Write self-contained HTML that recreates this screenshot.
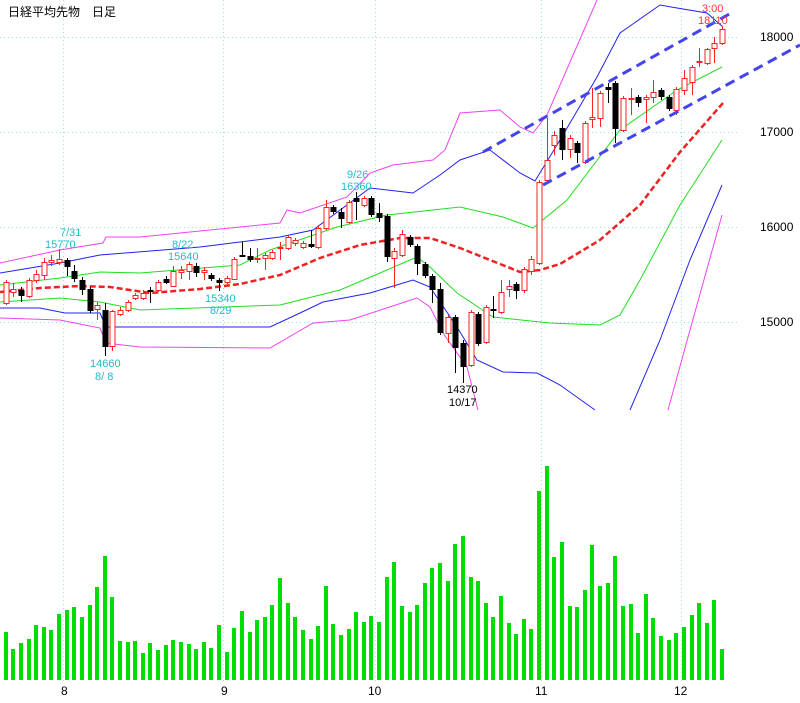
<!DOCTYPE html>
<html><head><meta charset="utf-8"><style>
html,body{margin:0;padding:0;background:#fff;}
svg{display:block;font-family:"Liberation Sans","Noto Sans CJK JP",sans-serif;}
</style></head><body>
<svg id="s" width="800" height="703" xmlns="http://www.w3.org/2000/svg" shape-rendering="crispEdges">
<g stroke="#9ee0e0" stroke-dasharray="1,3" stroke-width="1">
<line x1="0" y1="37.5" x2="740" y2="37.5"/><line x1="0" y1="132.5" x2="740" y2="132.5"/>
<line x1="0" y1="227.5" x2="740" y2="227.5"/><line x1="0" y1="322.5" x2="740" y2="322.5"/>
<line x1="63.5" y1="0" x2="63.5" y2="682"/><line x1="223.5" y1="0" x2="223.5" y2="682"/>
<line x1="375.5" y1="0" x2="375.5" y2="682"/><line x1="541.5" y1="0" x2="541.5" y2="682"/>
<line x1="681.5" y1="0" x2="681.5" y2="682"/>
</g>
<g id="lines" fill="none" shape-rendering="auto"></g>
<g id="vol" fill="#00dd00"></g>
<g id="cnd"></g>
<g fill="none" stroke="#4444ee" stroke-width="3" stroke-dasharray="10,6" shape-rendering="auto">
<line x1="483" y1="152" x2="733" y2="12"/>
<line x1="543" y1="185" x2="800" y2="45"/>
</g>
<g font-size="12" fill="#000">
<text x="8" y="16">日経平均先物　日足</text>
<text x="760" y="41">18000</text><text x="760" y="136">17000</text>
<text x="760" y="231">16000</text><text x="760" y="326">15000</text>
<text x="61" y="695">8</text><text x="221" y="695">9</text><text x="368" y="695">10</text>
<text x="535" y="695">11</text><text x="674" y="695">12</text>
</g>
<g font-size="11" fill="#22bbcc">
<text x="60" y="236">7/31</text><text x="45" y="248">15770</text>
<text x="172" y="248">8/22</text><text x="168" y="260">15640</text>
<text x="205" y="302">15340</text><text x="210" y="314">8/29</text>
<text x="347" y="178">9/26</text><text x="341" y="190">16360</text>
<text x="90" y="367">14660</text><text x="95" y="380">8/ 8</text>
</g>
<g font-size="11" fill="#000"><text x="447" y="393">14370</text><text x="449" y="406">10/17</text></g>
<g font-size="11" fill="#ff3333"><text x="702" y="12">3:00</text><text x="698" y="24">18110</text></g>
</svg>
<script>
var NS="http://www.w3.org/2000/svg";
function el(p,t,a){var e=document.createElementNS(NS,t);for(var k in a)e.setAttribute(k,a[k]);p.appendChild(e);return e;}
var L=document.getElementById("lines");
function pl(pts,c,w,d){var a={points:pts.map(function(p){return p.join(",")}).join(" "),stroke:c,"stroke-width":w||1};if(d)a["stroke-dasharray"]=d;el(L,"polyline",a);}
pl([[0,263],[60,250],[103,243],[106,237],[140,237],[280,223],[287,210],[300,213],[347,197],[370,173],[393,165],[433,160],[445,150],[460,113],[500,110],[520,127],[533,133],[547,115],[597,0]],"#ee44ee");
pl([[0,273],[60,263],[100,255],[200,247],[280,237],[313,230],[370,188],[413,193],[440,175],[460,160],[490,150],[520,173],[535,181],[560,140],[597,77],[620,33],[660,5],[677,8],[707,13],[723,27]],"#2222ee");
pl([[0,285],[60,278],[100,272],[140,273],[240,265],[270,250],[337,227],[387,215],[460,207],[503,217],[533,228],[567,200],[620,130],[677,90],[722,67]],"#22dd22");
pl([[0,292],[40,288],[80,286],[110,287],[150,293],[200,289],[240,284],[280,275],[320,258],[360,245],[400,238],[430,238],[460,248],[490,260],[520,272],[540,270],[560,264],[600,240],[640,205],[680,152],[723,103]],"#ee2222",2.5,"6,3");
pl([[0,302],[60,298],[100,302],[140,310],[280,305],[340,290],[380,273],[417,257],[430,267],[457,293],[493,317],[550,323],[600,325],[620,315],[640,280],[680,205],[722,140]],"#22dd22");
pl([[0,308],[40,308],[65,313],[100,313],[106,327],[270,327],[300,313],[323,302],[370,293],[413,280],[430,287],[457,327],[477,360],[503,372],[537,373],[560,385],[595,410]],"#2222ee");
pl([[630,410],[660,340],[690,260],[722,185]],"#2222ee");
pl([[0,318],[60,320],[100,328],[106,343],[140,347],[270,348],[313,323],[350,320],[417,298],[430,307],[443,333],[467,367],[478,410]],"#ee44ee");
pl([[668,410],[690,330],[722,215]],"#ee44ee");
var vt=[545,598,578,568,525,530,540,492,480,472,502,465,410,317,442,573,577,573,610,578,601,585,570,576,581,596,576,594,525,606,533,483,546,510,501,466,383,459,502,541,566,527,408,521,556,538,485,515,499,516,382,337].map(function(v){return 450+v/3});
[468,487,466,398,354,340,393,282,257,381,393,459,502,438,520,553,508,538,122,47,322,276,467,472,421,284,408,398,317,467,462,548,433,505,558,570,550,530,494,459,520,451,596].forEach(function(v){vt.push(450+v/3)});
var V=document.getElementById("vol");
vt.forEach(function(t,i){var x=Math.round(5.7+7.62*i);el(V,"rect",{x:x-2,y:Math.round(t),width:4,height:680-Math.round(t)});});
var C=[[282,303,280,305,1],[289,292,283,297,1],[290,296,287,302,0],[280,296,278,298,1],[274,280,270,283,1],[262,275,258,280,1],[260,262,255,266,1],[259,262,249,265,1],[260,267,258,276,0],[271,279,265,282,0],[280,290,277,295,0],[289,311,287,313,0],[305,309,302,320,1],[310,347,303,356,0],[311,346,310,351,1],[310,314,307,316,1],[302,310,300,312,1],[295,298,293,300,1],[293,298,290,300,1],[290,291,287,303,0],[282,290,280,292,1],[279,283,276,284,0],[271,286,266,287,1],[270,272,266,279,1],[264,271,262,280,1],[266,273,263,277,0],[270,272,267,280,1],[275,279,273,281,0],[280,283,278,291,0],[278,282,276,284,1],[259,279,257,280,1],[255,257,242,257,0],[256,260,248,262,0],[258,259,248,263,1],[255,258,253,270,1],[252,258,250,260,1],[247,248,242,260,1],[237,248,235,250,1],[240,243,238,246,1],[243,247,241,249,1],[244,247,230,248,0],[228,247,226,249,1],[207,228,200,230,1],[207,212,205,214,0],[212,219,208,228,0],[202,222,200,224,1],[198,202,192,220,0],[198,205,196,207,1],[198,215,196,217,0],[213,218,203,222,0],[216,257,214,262,0],[251,258,248,288,1],[234,255,230,257,1],[237,245,235,247,0],[246,264,244,275,0],[264,276,262,278,0],[276,290,274,303,0],[289,333,283,335,0],[317,333,315,343,1],[317,348,315,373,0],[343,367,340,383,0],[312,365,310,367,1],[314,344,312,346,0],[307,342,305,344,1],[309,311,296,318,0],[292,312,280,314,1],[286,289,280,297,1],[284,291,282,299,0],[269,290,267,293,1],[259,271,256,275,1],[182,263,180,265,1],[160,180,118,182,1],[135,145,131,155,1],[128,150,120,160,0],[138,149,135,158,1],[143,153,141,163,0],[123,162,121,164,1],[117,119,88,128,1],[93,118,91,127,1],[87,90,83,103,0],[83,129,81,143,0],[98,130,96,132,1],[98,99,88,115,1],[97,103,95,107,0],[97,99,95,123,1],[92,97,80,103,1],[90,97,88,100,0],[97,109,95,111,0],[89,110,87,115,1],[78,90,70,95,1],[67,82,65,95,1],[61,62,48,67,1],[49,63,48,65,1],[43,48,37,63,1],[29,43,26,45,1]];
var G=document.getElementById("cnd");
C.forEach(function(c,i){var x=Math.round(5.7+7.62*i)+0.5;var col=c[4]?"#ff2222":"#000";
el(G,"line",{x1:x,y1:c[2],x2:x,y2:c[3],stroke:col});
if(c[4])el(G,"rect",{x:x-2.5,y:c[0]+0.5,width:5,height:Math.max(1,c[1]-c[0]),fill:"#fff",stroke:col});
else el(G,"rect",{x:x-3,y:c[0],width:6,height:Math.max(2,c[1]-c[0]),fill:"#000"});});
</script>
</body></html>
